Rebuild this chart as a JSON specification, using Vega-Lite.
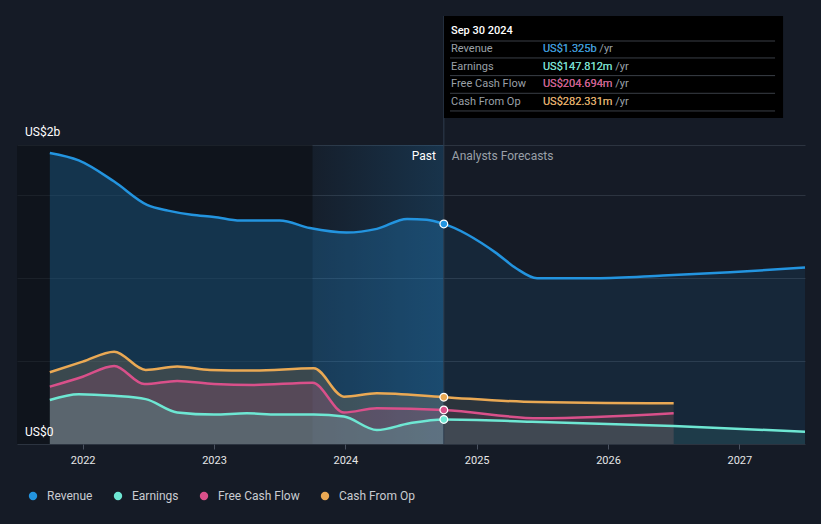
{
 "$schema": "https://vega.github.io/schema/vega-lite/v6.json",
 "width": 788, "height": 299,
 "autosize": {"type": "none"},
 "padding": {"left": 17, "top": 145, "right": 16, "bottom": 80},
 "background": "#151b26",
 "config": {"view": {"stroke": null}, "font": "Roboto"},
 "datasets": {
  "m": [
   {"s":"Revenue","t":2021.75,"v":1.752},{"s":"Revenue","t":2021.97,"v":1.707},{"s":"Revenue","t":2022.24,"v":1.58},{"s":"Revenue","t":2022.49,"v":1.44},{"s":"Revenue","t":2022.65,"v":1.405},{"s":"Revenue","t":2022.83,"v":1.38},{"s":"Revenue","t":2023.0,"v":1.367},{"s":"Revenue","t":2023.2,"v":1.345},{"s":"Revenue","t":2023.5,"v":1.345},{"s":"Revenue","t":2023.73,"v":1.30},{"s":"Revenue","t":2024.01,"v":1.273},{"s":"Revenue","t":2024.24,"v":1.295},{"s":"Revenue","t":2024.47,"v":1.355},{"s":"Revenue","t":2024.62,"v":1.35},{"s":"Revenue","t":2024.75,"v":1.325},{"s":"Revenue","t":2025.15,"v":1.149},{"s":"Revenue","t":2025.3,"v":1.058},{"s":"Revenue","t":2025.46,"v":0.998},{"s":"Revenue","t":2025.91,"v":0.998},{"s":"Revenue","t":2026.42,"v":1.014},{"s":"Revenue","t":2026.93,"v":1.034},{"s":"Revenue","t":2027.5,"v":1.062},
   {"s":"Cash From Op","t":2021.75,"v":0.432},{"s":"Cash From Op","t":2022.0,"v":0.496},{"s":"Cash From Op","t":2022.24,"v":0.556},{"s":"Cash From Op","t":2022.48,"v":0.446},{"s":"Cash From Op","t":2022.72,"v":0.466},{"s":"Cash From Op","t":2022.97,"v":0.446},{"s":"Cash From Op","t":2023.3,"v":0.442},{"s":"Cash From Op","t":2023.76,"v":0.456},{"s":"Cash From Op","t":2023.99,"v":0.285},{"s":"Cash From Op","t":2024.24,"v":0.305},{"s":"Cash From Op","t":2024.75,"v":0.282},{"s":"Cash From Op","t":2025.36,"v":0.255},{"s":"Cash From Op","t":2026.5,"v":0.245},
   {"s":"Free Cash Flow","t":2021.75,"v":0.345},{"s":"Free Cash Flow","t":2022.0,"v":0.405},{"s":"Free Cash Flow","t":2022.24,"v":0.47},{"s":"Free Cash Flow","t":2022.47,"v":0.361},{"s":"Free Cash Flow","t":2022.72,"v":0.38},{"s":"Free Cash Flow","t":2023.0,"v":0.361},{"s":"Free Cash Flow","t":2023.3,"v":0.355},{"s":"Free Cash Flow","t":2023.75,"v":0.369},{"s":"Free Cash Flow","t":2023.99,"v":0.19},{"s":"Free Cash Flow","t":2024.24,"v":0.215},{"s":"Free Cash Flow","t":2024.75,"v":0.205},{"s":"Free Cash Flow","t":2025.48,"v":0.155},{"s":"Free Cash Flow","t":2026.5,"v":0.185},
   {"s":"Earnings","t":2021.75,"v":0.265},{"s":"Earnings","t":2021.97,"v":0.30},{"s":"Earnings","t":2022.24,"v":0.29},{"s":"Earnings","t":2022.48,"v":0.27},{"s":"Earnings","t":2022.72,"v":0.19},{"s":"Earnings","t":2023.0,"v":0.177},{"s":"Earnings","t":2023.25,"v":0.185},{"s":"Earnings","t":2023.48,"v":0.177},{"s":"Earnings","t":2023.76,"v":0.177},{"s":"Earnings","t":2023.99,"v":0.165},{"s":"Earnings","t":2024.24,"v":0.084},{"s":"Earnings","t":2024.49,"v":0.125},{"s":"Earnings","t":2024.75,"v":0.148},{"s":"Earnings","t":2025.42,"v":0.134},{"s":"Earnings","t":2026.5,"v":0.108},{"s":"Earnings","t":2027.5,"v":0.074}
  ],
  "tip": [
   {"s":"Revenue","v":"US$1.325b","vt":"US$1.325b /yr"},
   {"s":"Earnings","v":"US$147.812m","vt":"US$147.812m /yr"},
   {"s":"Free Cash Flow","v":"US$204.694m","vt":"US$204.694m /yr"},
   {"s":"Cash From Op","v":"US$282.331m","vt":"US$282.331m /yr"}
  ]
 },
 "layer": [
  {"data":{"values":[{}]},"mark":{"type":"rect","fill":"#0a0d12","opacity":0.5},
   "encoding":{"x":{"datum":2021.5,"type":"quantitative","scale":{"domain":[2021.5,2027.5],"nice":false,"zero":false},"axis":{"values":[2022,2023,2024,2025,2026,2027],"format":"d","title":null,"labelColor":"#e6e6e6","labelFontSize":11,"tickColor":"#4a5260","tickSize":5,"labelPadding":5,"domain":false,"grid":false}},"x2":{"datum":2023.75},
    "y":{"datum":0,"type":"quantitative","scale":{"domain":[0,1.8],"nice":false,"zero":true},"axis":{"values":[0,0.5,1,1.5,1.8],"labels":false,"ticks":false,"domain":false,"title":null,"grid":true,"gridColor":"#2c3440","gridWidth":1}},"y2":{"datum":1.8}}},
  {"data":{"values":[{}]},"mark":{"type":"rect","fill":{"gradient":"linear","x1":0,"x2":1,"y1":0,"y2":0,"stops":[{"offset":0,"color":"rgba(35,148,223,0.03)"},{"offset":1,"color":"rgba(35,148,223,0.2)"}]}},
   "encoding":{"x":{"datum":2023.75},"x2":{"datum":2024.75},"y":{"datum":0},"y2":{"datum":1.8}}},
  {"data":{"name":"m"},"transform":[{"filter":"datum.t <= 2024.75 && datum.s == 'Revenue'"}],
   "mark":{"type":"area","interpolate":"monotone","opacity":0.25,"color":"#2394df"},
   "encoding":{"x":{"field":"t","type":"quantitative"},"y":{"field":"v","type":"quantitative"}}},
  {"data":{"name":"m"},"transform":[{"filter":"datum.t <= 2024.75 && datum.s != 'Revenue'"}],
   "mark":{"type":"area","interpolate":"monotone","opacity":0.18},
   "encoding":{"x":{"field":"t","type":"quantitative"},"y":{"field":"v","type":"quantitative","stack":null},
    "color":{"field":"s","type":"nominal","scale":{"domain":["Revenue","Earnings","Free Cash Flow","Cash From Op"],"range":["#2394df","#6ee7d3","#d9508a","#eaa954"]},
     "legend":{"title":null,"orient":"none","legendX":10,"legendY":345,"direction":"horizontal","gridAlign":"none","symbolType":"circle","symbolSize":70,"symbolStrokeWidth":0,"symbolOpacity":1,"labelColor":"#c9ccd1","labelFontSize":12,"labelOffset":8,"columnPadding":19,
      "encode":{"symbols":{"update":{"opacity":{"value":1},"fillOpacity":{"value":1}}}}}},
    "order":{"field":"s","sort":"ascending"}}},
  {"data":{"name":"m"},"transform":[{"filter":"datum.t >= 2024.75"}],
   "mark":{"type":"area","interpolate":"monotone","opacity":0.1},
   "encoding":{"x":{"field":"t","type":"quantitative"},"y":{"field":"v","type":"quantitative","stack":null},
    "color":{"field":"s","type":"nominal"}}},
  {"data":{"name":"m"},
   "mark":{"type":"line","interpolate":"monotone","strokeWidth":2.5},
   "encoding":{"x":{"field":"t","type":"quantitative"},"y":{"field":"v","type":"quantitative"},
    "color":{"field":"s","type":"nominal"}}},
  {"data":{"values":[{}]},"mark":{"type":"rule","color":"#2f3d4e","strokeWidth":1},
   "encoding":{"x":{"datum":2024.75},"y":{"datum":0},"y2":{"datum":2.577}}},
  {"data":{"values":[{}]},"mark":{"type":"rect","fill":"#000000"},
   "encoding":{"x":{"datum":2024.751},"x2":{"datum":2027.333},"y":{"datum":1.963},"y2":{"datum":2.577}}},
  {"data":{"name":"m"},"transform":[{"filter":"datum.t == 2024.75"}],
   "mark":{"type":"point","filled":true,"size":60,"stroke":"#ffffff","strokeWidth":1.2,"opacity":1},
   "encoding":{"x":{"field":"t","type":"quantitative"},"y":{"field":"v","type":"quantitative"},
    "color":{"field":"s","type":"nominal"}}},
  {"data":{"values":[{}]},"mark":{"type":"text","text":"Past","align":"right","baseline":"middle","dx":-8,"dy":11,"fontSize":12,"color":"#ffffff"},
   "encoding":{"x":{"datum":2024.75},"y":{"datum":1.8}}},
  {"data":{"values":[{}]},"mark":{"type":"text","text":"Analysts Forecasts","align":"left","baseline":"middle","dx":8,"dy":11,"fontSize":12,"color":"#9aa0a8"},
   "encoding":{"x":{"datum":2024.75},"y":{"datum":1.8}}},
  {"data":{"values":[{}]},"mark":{"type":"text","text":"US$2b","align":"left","baseline":"middle","dx":8,"dy":-13,"fontSize":12,"color":"#ffffff"},
   "encoding":{"x":{"datum":2021.5},"y":{"datum":1.8}}},
  {"data":{"values":[{}]},"mark":{"type":"text","text":"US$0","align":"left","baseline":"middle","dx":8,"dy":-12,"fontSize":12,"color":"#ffffff"},
   "encoding":{"x":{"datum":2021.5},"y":{"datum":0}}},
  {"data":{"values":[{}]},"mark":{"type":"text","text":"Sep 30 2024","align":"left","baseline":"middle","fontSize":11,"fontWeight":500,"color":"#ffffff"},
   "encoding":{"x":{"datum":2024.805},"y":{"datum":2.486}}},
  {"data":{"values":[{}]},"mark":{"type":"rule","color":"#3a3f47","strokeWidth":1},
   "encoding":{"x":{"datum":2024.797},"x2":{"datum":2027.272},"y":{"datum":2.426}}},
  {"data":{"name":"tip"},"mark":{"type":"rule","color":"#3a3f47","strokeWidth":1},
   "encoding":{"x":{"datum":2024.797},"x2":{"datum":2027.272},"y":{"datum":2.324},
    "yOffset":{"field":"s","type":"nominal","scale":{"type":"point","padding":0,"domain":["Revenue","Earnings","Free Cash Flow","Cash From Op"],"range":[0,53]}}}},
  {"data":{"name":"tip"},"mark":{"type":"text","align":"left","baseline":"middle","fontSize":11,"color":"#9ba1a8"},
   "encoding":{"x":{"datum":2024.805},"y":{"datum":2.378},
    "yOffset":{"field":"s","type":"nominal","scale":{"type":"point","padding":0,"domain":["Revenue","Earnings","Free Cash Flow","Cash From Op"],"range":[0,52]}},
    "text":{"field":"s"}}},
  {"data":{"name":"tip"},"mark":{"type":"text","align":"left","baseline":"middle","fontSize":11,"color":"#9ba1a8"},
   "encoding":{"x":{"datum":2025.505},"y":{"datum":2.378},
    "yOffset":{"field":"s","type":"nominal","scale":{"type":"point","padding":0,"domain":["Revenue","Earnings","Free Cash Flow","Cash From Op"],"range":[0,52]}},
    "text":{"field":"vt"}}},
  {"data":{"name":"tip"},"mark":{"type":"text","align":"left","baseline":"middle","fontSize":11},
   "encoding":{"x":{"datum":2025.505},"y":{"datum":2.378},
    "yOffset":{"field":"s","type":"nominal","scale":{"type":"point","padding":0,"domain":["Revenue","Earnings","Free Cash Flow","Cash From Op"],"range":[0,52]}},
    "color":{"field":"s","type":"nominal"},
    "text":{"field":"v"}}}
 ]
}
